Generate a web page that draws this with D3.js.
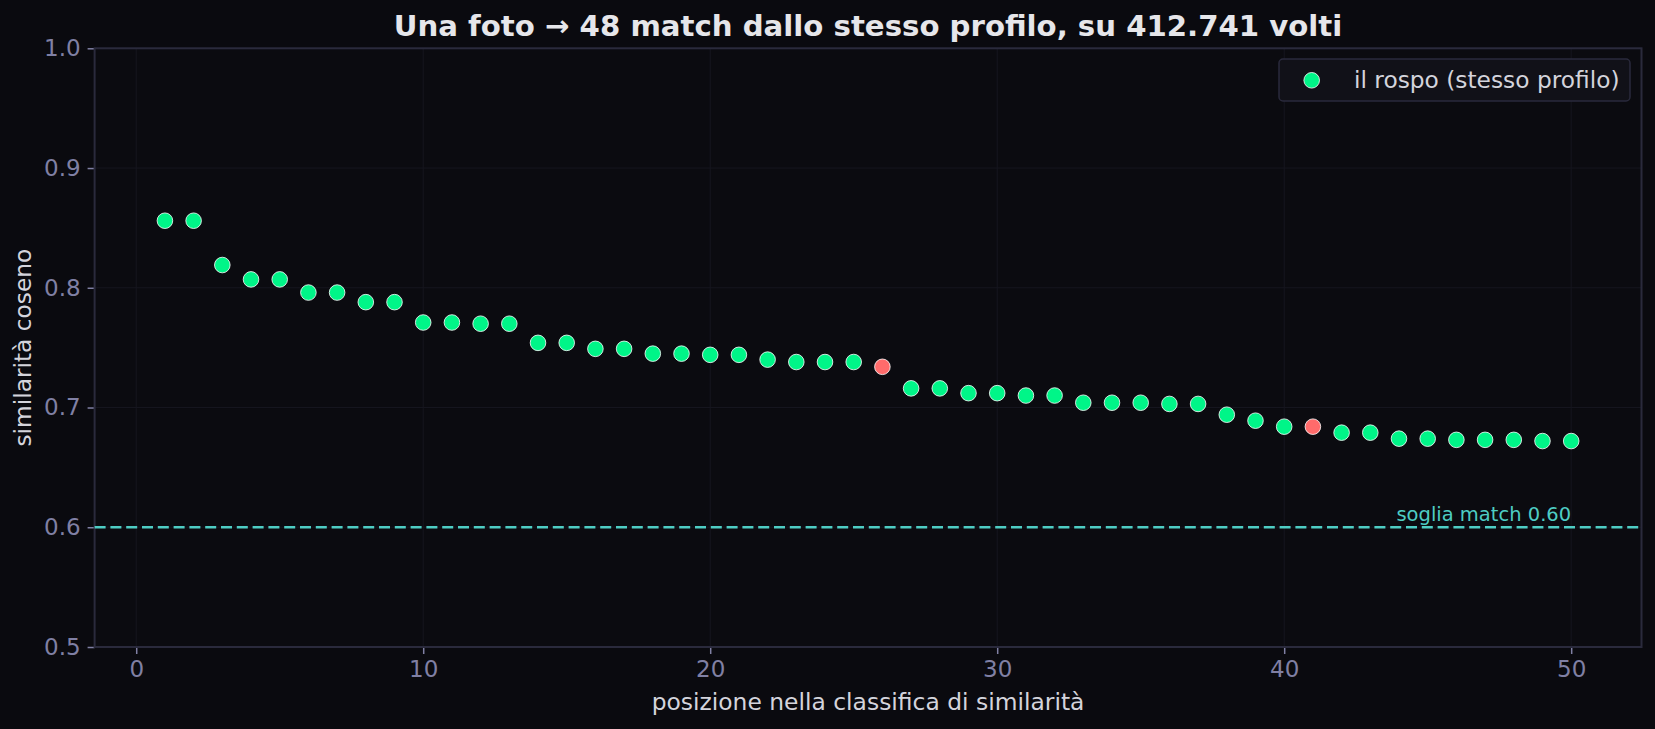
<!DOCTYPE html>
<html><head><meta charset="utf-8">
<script src="https://cdn.jsdelivr.net/npm/d3@7"></script>
<style>
html,body{margin:0;padding:0;background:#0a0a0f;}
svg{display:block;font-family:"DejaVu Sans",sans-serif;}
</style></head>
<body>
<script>
const ranks = d3.range(1, 51);
const similarity = [0.856,0.856,0.819,0.807,0.807,0.796,0.796,0.788,0.788,0.771,
  0.771,0.770,0.770,0.754,0.754,0.749,0.749,0.745,0.745,0.744,
  0.744,0.740,0.738,0.738,0.738,0.734,0.716,0.716,0.712,0.712,
  0.710,0.710,0.704,0.704,0.704,0.703,0.703,0.694,0.689,0.684,
  0.684,0.679,0.679,0.674,0.674,0.673,0.673,0.673,0.672,0.672];
const flaggedRanks = [26, 41];
const xTicks = [0,10,20,30,40,50];
const yTicks = [0.5,0.6,0.7,0.8,0.9,1.0];
const threshold = 0.60;
const titleText = "Una foto → 48 match dallo stesso profilo, su 412.741 volti";
const xLabel = "posizione nella classifica di similarità";
const yLabel = "similarità coseno";
const legendLabel = "il rospo (stesso profilo)";
const thresholdLabel = "soglia match 0.60";

const W = 1655, H = 729;
const m = {left: 94.6, right: 1641.5, top: 48.3, bottom: 647};
const green = "#00f588", red = "#ff6b6b", teal = "#4ecdc4";
const tickColor = "#8080a4", spineColor = "#2a2a3c", gridColor = "#16161f";

const svg = d3.select("body").append("svg").attr("width", W).attr("height", H);
svg.append("rect").attr("width", W).attr("height", H).attr("fill", "#0a0a0f");

const x = d3.scaleLinear().domain([-1.45, 52.45]).range([m.left, m.right]);
const y = d3.scaleLinear().domain([0.5, 1.0]).range([m.bottom, m.top]);

svg.append("rect").attr("x", m.left).attr("y", m.top)
  .attr("width", m.right - m.left).attr("height", m.bottom - m.top).attr("fill", "#0b0b10");

// grid
svg.append("g").selectAll("line").data(xTicks).join("line")
  .attr("x1", d => x(d)).attr("x2", d => x(d)).attr("y1", m.top).attr("y2", m.bottom)
  .attr("stroke", gridColor).attr("stroke-width", 1);
svg.append("g").selectAll("line").data(yTicks).join("line")
  .attr("y1", d => y(d)).attr("y2", d => y(d)).attr("x1", m.left).attr("x2", m.right)
  .attr("stroke", gridColor).attr("stroke-width", 1);

// axes
const xAxis = svg.append("g").attr("transform", `translate(0,${m.bottom})`)
  .call(d3.axisBottom(x).tickValues(xTicks).tickFormat(d3.format("d")).tickSize(7).tickPadding(7));
const yAxis = svg.append("g").attr("transform", `translate(${m.left},0)`)
  .call(d3.axisLeft(y).tickValues(yTicks).tickFormat(d3.format(".1f")).tickSize(7).tickPadding(7));
[xAxis, yAxis].forEach(g => {
  g.select(".domain").remove();
  g.selectAll(".tick line").attr("stroke", tickColor).attr("stroke-width", 1.5);
  g.selectAll(".tick text").attr("fill", tickColor).style("font-size", "23px")
    .style("font-family", "DejaVu Sans");
});

// spines
svg.append("rect").attr("x", m.left).attr("y", m.top)
  .attr("width", m.right - m.left).attr("height", m.bottom - m.top)
  .attr("fill", "none").attr("stroke", spineColor).attr("stroke-width", 2);

// threshold
svg.append("line").attr("x1", m.left).attr("x2", m.right)
  .attr("y1", y(threshold)).attr("y2", y(threshold))
  .attr("stroke", teal).attr("stroke-width", 2.5).attr("stroke-dasharray", "11,4.8");
svg.append("text").attr("x", x(50)).attr("y", y(threshold) - 6)
  .attr("text-anchor", "end").attr("fill", teal).style("font-size", "19.5px")
  .text(thresholdLabel);

// points
const pts = ranks.map((r, i) => ({r, v: similarity[i], flag: flaggedRanks.includes(r)}));
svg.append("g").selectAll("circle").data(pts).join("circle")
  .attr("cx", d => x(d.r)).attr("cy", d => y(d.v)).attr("r", 7.8)
  .attr("fill", d => d.flag ? red : green)
  .attr("stroke", "#ffffff").attr("stroke-width", 0.8);

// title & labels
svg.append("text").attr("x", (m.left + m.right) / 2).attr("y", 36)
  .attr("text-anchor", "middle").attr("fill", "#e6e6ea")
  .style("font-size", "29.2px").style("font-weight", "bold").text(titleText);
svg.append("text").attr("x", (m.left + m.right) / 2).attr("y", 710)
  .attr("text-anchor", "middle").attr("fill", "#d4d4dc")
  .style("font-size", "23.4px").text(xLabel);
svg.append("text").attr("transform", `translate(31,${(m.top + m.bottom) / 2}) rotate(-90)`)
  .attr("text-anchor", "middle").attr("fill", "#d4d4dc")
  .style("font-size", "23.3px").text(yLabel);

// legend
const lg = svg.append("g");
lg.append("rect").attr("x", 1279).attr("y", 59).attr("width", 351).attr("height", 42)
  .attr("rx", 4).attr("fill", "#111118").attr("stroke", spineColor).attr("stroke-width", 1.5);
lg.append("circle").attr("cx", 1311.7).attr("cy", 80.3).attr("r", 7.8)
  .attr("fill", green).attr("stroke", "#ffffff").attr("stroke-width", 0.8);
lg.append("text").attr("x", 1354).attr("y", 88.3).attr("fill", "#d4d4dc")
  .style("font-size", "23.3px").text(legendLabel);
</script>
</body></html>
